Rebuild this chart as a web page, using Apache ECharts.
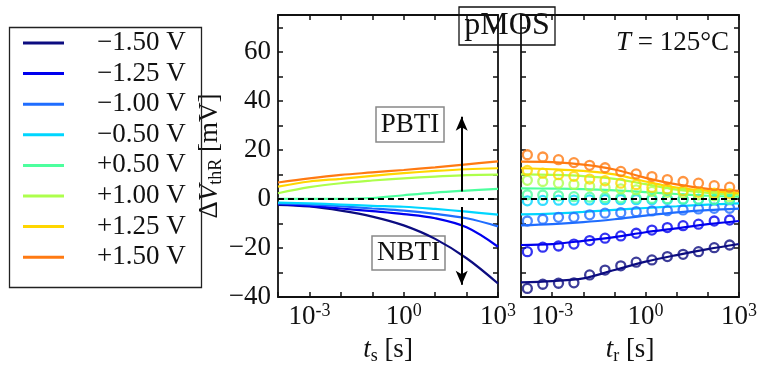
<!DOCTYPE html>
<html><head><meta charset="utf-8">
<script src="https://cdn.jsdelivr.net/npm/echarts@6/dist/echarts.min.js"></script>
<style>html,body{margin:0;padding:0;background:#fff}#c{width:766px;height:373px}</style>
</head><body><div id="c"></div>
<script>
// ---------- data ----------
const seriesNames = ['−1.50 V', '−1.25 V', '−1.00 V', '−0.50 V', '+0.50 V', '+1.00 V', '+1.25 V', '+1.50 V'];
const seriesColors = ['#0c0c80', '#0000ee', '#1f6dff', '#00d6ff', '#4dff9e', '#adff4c', '#ffd600', '#ff7a12'];

// stress time grid (s) for left panel lines
const tStress = [1e-4, 1e-3, 1e-2, 1e-1, 1e0, 1e1, 1e2, 1e3];
const stressM150 = [-2.4, -3.1, -4.8, -7.2, -10.8, -16.3, -24.2, -34.5];
const stressM125 = [-2.0, -2.9, -3.9, -5.0, -6.2, -7.9, -11.6, -19.5];
const stressM100 = [-1.8, -2.2, -3.0, -3.9, -4.8, -6.1, -7.9, -11.2];
const stressM050 = [-1.5, -1.8, -2.3, -2.8, -3.2, -4.1, -5.2, -6.4];
const stressP050 = [0.0, 0.0, 0.0, 0.3, 1.5, 2.6, 3.4, 4.1];
const stressP100 = [2.3, 4.8, 6.4, 7.5, 8.4, 9.1, 9.7, 9.9];
const stressP125 = [5.0, 7.1, 8.2, 9.4, 10.5, 11.4, 12.1, 12.5];
const stressP150 = [6.7, 8.4, 9.8, 10.8, 11.8, 12.9, 14.1, 15.3];

// relaxation time grid (s) for right panel model lines
const tRelax = [1e-4, 1e-3, 1e-2, 1e-1, 1e0, 1e1, 1e2, 1e3];
const relaxLineM150 = [-34.0, -33.5, -32.4, -29.0, -25.6, -22.9, -20.5, -18.4];
const relaxLineM125 = [-18.8, -18.4, -17.1, -15.6, -13.6, -12.0, -10.3, -9.0];
const relaxLineM100 = [-10.8, -10.3, -9.5, -8.3, -6.8, -5.5, -4.6, -4.0];
const relaxLineM050 = [-6.3, -6.0, -5.3, -4.5, -3.7, -3.0, -2.3, -1.8];
const relaxLineP050 = [4.3, 4.2, 4.0, 3.5, 2.8, 2.0, 1.3, 0.9];
const relaxLineP100 = [10.0, 9.8, 9.3, 8.2, 6.0, 3.8, 2.5, 1.7];
const relaxLineP125 = [12.5, 12.1, 11.4, 10.0, 7.1, 4.6, 3.3, 2.3];
const relaxLineP150 = [15.2, 15.0, 14.0, 12.0, 8.6, 5.9, 4.1, 3.3];

// measured recovery points (s)
const tMeas = [1.6e-4, 5e-4, 1.6e-3, 5e-3, 1.6e-2, 5e-2, 0.16, 0.5, 1.6, 5, 16, 50, 160, 500];
const measM150 = [-36.5, -34.8, -34.4, -34.2, -31.0, -29.0, -27.3, -25.8, -24.9, -23.5, -22.6, -21.5, -19.9, -18.8];
const measM125 = [-21.5, -19.7, -19.2, -18.4, -17.0, -16.0, -15.1, -14.0, -12.7, -11.7, -10.9, -10.3, -9.0, -8.6];
const measM100 = [-9.0, -8.3, -7.5, -7.5, -6.5, -5.8, -5.6, -5.2, -4.9, -4.8, -4.5, -4.1, -3.8, -3.8];
const measM050 = [-0.8, -0.6, -0.5, -0.5, -0.4, -0.3, -0.3, -0.3, -0.3, -0.2, -0.2, -0.2, -0.3, -0.3];
const measP050 = [1.7, 1.6, 1.3, 0.9, 0.7, 0.5, 0.4, 0.3, 0.2, 0.1, 0.0, -0.1, -0.2, -0.2];
const measP100 = [7.6, 7.1, 6.4, 5.9, 5.2, 4.6, 4.1, 3.7, 3.1, 2.7, 2.3, 1.7, 1.3, 0.9];
const measP125 = [11.6, 10.5, 9.9, 9.2, 8.1, 7.4, 6.4, 5.8, 4.7, 4.0, 3.3, 2.7, 2.3, 2.1];
const measP150 = [18.0, 17.1, 16.0, 14.8, 13.7, 12.7, 11.2, 10.2, 9.1, 7.9, 7.1, 6.4, 5.4, 4.8];

const yTickLabels = [-40, -20, 0, 20, 40, 60];
const xTickExponents = [-3, 0, 3];

const stressSets = [stressM150, stressM125, stressM100, stressM050, stressP050, stressP100, stressP125, stressP150];
const relaxLineSets = [relaxLineM150, relaxLineM125, relaxLineM100, relaxLineM050, relaxLineP050, relaxLineP100, relaxLineP125, relaxLineP150];
const measSets = [measM150, measM125, measM100, measM050, measP050, measP100, measP125, measP150];

// ---------- chart ----------
const FONT = 'Liberation Serif';
const TXT = '#111';
const zip = (xs, ys) => xs.map((x, i) => [x, ys[i]]);

const chart = echarts.init(document.getElementById('c'), null, {renderer: 'canvas'});

const grids = [
  {left: 278, top: 15, width: 220, height: 282},
  {left: 521, top: 15, width: 218, height: 282}
];

const axisLine = {show: true, onZero: false, lineStyle: {color: '#111', width: 1.8}};
const axisTick = {show: true, inside: true, length: 5, lineStyle: {color: '#111', width: 1.5}};
const nameRich = {
  i: {fontFamily: FONT, fontSize: 27, fontStyle: 'italic', color: TXT},
  sub: {fontFamily: FONT, fontSize: 18, color: TXT, padding: [12, 0, 0, 0]},
  n: {fontFamily: FONT, fontSize: 27, color: TXT}
};

function xAxisDef(grid, pos, labels, name) {
  return {
    type: 'log', logBase: 10, gridIndex: grid, position: pos, min: 1e-4, max: 1e3,
    axisLine, axisTick, splitLine: {show: false}, minorTick: {show: false},
    name: name || '', nameLocation: 'middle', nameGap: 38,
    nameTextStyle: {fontFamily: FONT, fontSize: 27, color: TXT, rich: nameRich},
    axisLabel: {show: labels, margin: 5, fontFamily: FONT, fontSize: 27, color: TXT,
      formatter: v => {
        const e = Math.round(Math.log10(v));
        return xTickExponents.includes(e) ? '{b|10}{s|' + e + '}' : '';
      },
      rich: {b: {fontFamily: FONT, fontSize: 27, color: TXT},
             s: {fontFamily: FONT, fontSize: 18, color: TXT, padding: [0, 0, 12, 0]}}}
  };
}
function yAxisDef(grid, pos, labels, name) {
  return {
    type: 'value', gridIndex: grid, position: pos, min: -40, max: 75, interval: 10,
    axisLine, axisTick, splitLine: {show: false},
    name: name || '', nameLocation: 'middle', nameGap: 46,
    nameTextStyle: {fontFamily: FONT, fontSize: 27, color: TXT, rich: nameRich},
    axisLabel: {show: labels, margin: 7, fontFamily: FONT, fontSize: 27, color: TXT,
      formatter: v => yTickLabels.includes(v) ? (v < 0 ? '−' + (-v) : String(v)) : ''}
  };
}

const series = [];
stressSets.forEach((arr, i) => {
  series.push({
    name: seriesNames[i], type: 'line', xAxisIndex: 0, yAxisIndex: 0,
    data: zip(tStress, arr), smooth: 0.35, showSymbol: false, symbol: 'none',
    lineStyle: {color: seriesColors[i], width: 2.2}, itemStyle: {color: seriesColors[i]}, z: 3
  });
});
relaxLineSets.forEach((arr, i) => {
  series.push({
    name: seriesNames[i], type: 'line', xAxisIndex: 1, yAxisIndex: 2,
    data: zip(tRelax, arr), smooth: 0.35, showSymbol: false, symbol: 'none',
    lineStyle: {color: seriesColors[i], width: 2.2}, itemStyle: {color: seriesColors[i]}, z: 3
  });
});
measSets.forEach((arr, i) => {
  series.push({
    name: seriesNames[i], type: 'scatter', xAxisIndex: 1, yAxisIndex: 2,
    data: zip(tMeas, arr), symbol: 'circle', symbolSize: 9,
    itemStyle: {color: 'rgba(255,255,255,0)', borderColor: seriesColors[i], borderWidth: 2.3}, z: 4
  });
});
const dash = {type: [6, 4], color: '#000', width: 2};
series.push({
  type: 'line', xAxisIndex: 0, yAxisIndex: 0, data: [], z: 2,
  markLine: {silent: true, symbol: 'none', label: {show: false}, lineStyle: dash, data: [{yAxis: 0}]}
});
series.push({
  type: 'line', xAxisIndex: 1, yAxisIndex: 2, data: [], z: 2,
  markLine: {silent: true, symbol: 'none', label: {show: false}, lineStyle: dash, data: [{yAxis: 0}]}
});
series.push({
  type: 'line', xAxisIndex: 0, yAxisIndex: 0, data: [], z: 6,
  markLine: {silent: true, symbol: ['none', 'arrow'], symbolSize: [9, 14], label: {show: false},
    lineStyle: {type: 'solid', color: '#000', width: 2},
    data: [
      [{coord: [70, 3]}, {coord: [70, 33.5]}],
      [{coord: [70, -3.3]}, {coord: [70, -35]}]
    ]}
});

const option = {
  animation: false,
  backgroundColor: '#fff',
  grid: grids,
  xAxis: [
    xAxisDef(0, 'bottom', true, '{i|t}{sub|s} {n|[s]}'),
    xAxisDef(1, 'bottom', true, '{i|t}{sub|r} {n|[s]}'),
    xAxisDef(0, 'top', false),
    xAxisDef(1, 'top', false)
  ],
  yAxis: [
    yAxisDef(0, 'left', true, '{n|Δ}{i|V}{sub|thR} {n|[mV]}'),
    yAxisDef(0, 'right', false),
    yAxisDef(1, 'left', false),
    yAxisDef(1, 'right', false)
  ],
  legend: {
    data: seriesNames, orient: 'vertical', left: 23, top: 29, padding: 0,
    itemWidth: 41, itemHeight: 3, icon: 'rect', itemGap: 2.6,
    formatter: n => '{sp| }{t|' + n + '}',
    textStyle: {fontFamily: FONT, fontSize: 27, color: TXT, lineHeight: 28,
      rich: {sp: {width: 28}, t: {fontFamily: FONT, fontSize: 27, color: TXT, lineHeight: 28}}}
  },
  series,
  graphic: [
    {type: 'rect', left: 7, top: 25, z: 10, shape: {width: 192, height: 260},
     style: {fill: 'none', stroke: '#222', lineWidth: 1.3}},
    {type: 'group', z: 20, children: [
      {type: 'rect', shape: {x: 459, y: 7, width: 96, height: 38}, style: {fill: '#fff', stroke: '#111', lineWidth: 1.3}},
      {type: 'text', x: 507, y: 26, style: {text: 'pMOS', font: '32px "Liberation Serif"', fill: TXT, textAlign: 'center', textVerticalAlign: 'middle'}}
    ]},
    {type: 'group', z: 20, children: [
      {type: 'rect', shape: {x: 376, y: 107, width: 68, height: 35}, style: {fill: '#fff', stroke: '#888', lineWidth: 1.5}},
      {type: 'text', x: 410, y: 125, style: {text: 'PBTI', font: '27px "Liberation Serif"', fill: TXT, textAlign: 'center', textVerticalAlign: 'middle'}}
    ]},
    {type: 'group', z: 20, children: [
      {type: 'rect', shape: {x: 372, y: 236, width: 73, height: 34}, style: {fill: '#fff', stroke: '#888', lineWidth: 1.5}},
      {type: 'text', x: 408.5, y: 253, style: {text: 'NBTI', font: '27px "Liberation Serif"', fill: TXT, textAlign: 'center', textVerticalAlign: 'middle'}}
    ]},
    {type: 'text', z: 20, x: 729, y: 43, style: {
      text: '{i|T} = 125°C', textAlign: 'right', textVerticalAlign: 'middle',
      font: '27px "Liberation Serif"', fill: TXT,
      rich: {i: {fontStyle: 'italic', fontFamily: FONT, fontSize: 27, fill: TXT, color: TXT}}}}
  ]
};
chart.setOption(option);
</script>
</body></html>
